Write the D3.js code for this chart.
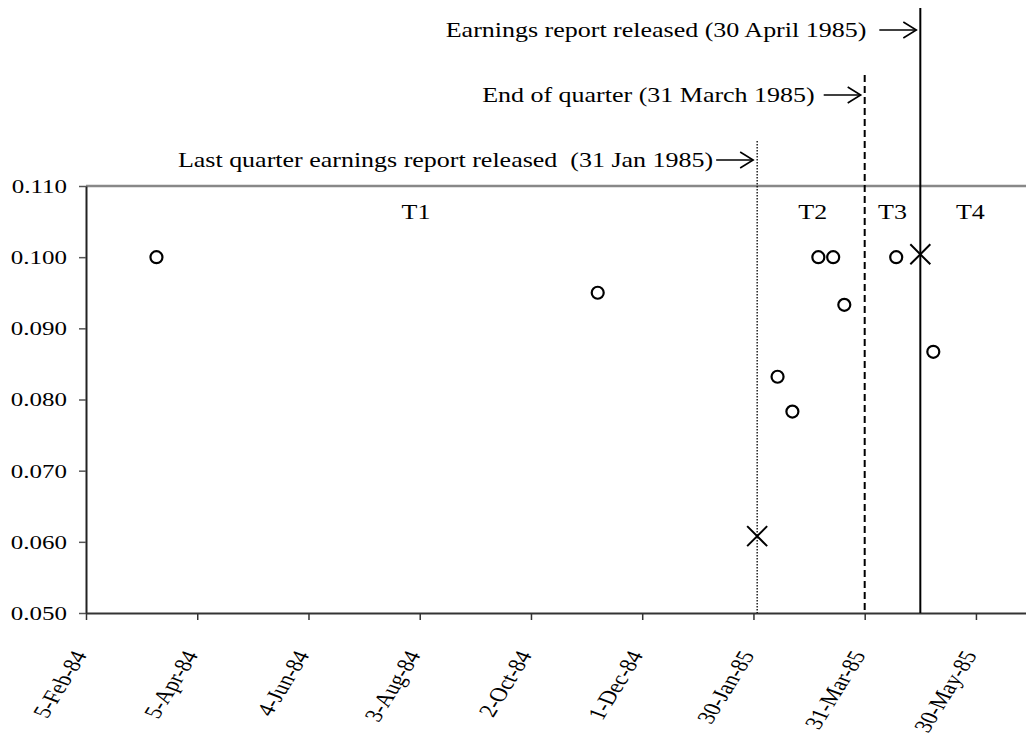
<!DOCTYPE html>
<html>
<head>
<meta charset="utf-8">
<script src="https://cdn.jsdelivr.net/npm/d3@7"></script>
<style>
  html, body { margin: 0; padding: 0; background: #fff; }
  svg { display: block; }
  text { font-family: "Liberation Serif", "Times New Roman", serif; fill: #000; white-space: pre; }
</style>
</head>
<body>
<svg id="chart" width="1026" height="747"></svg>
<script>
// ---- data ----
const circleDates = ["1984-03-14","1984-11-07","1985-02-12","1985-02-20","1985-03-06","1985-03-14","1985-03-20","1985-04-17","1985-05-07"];
const circleValues = [0.100, 0.095, 0.0832, 0.0783, 0.100, 0.100, 0.0933, 0.100, 0.0867];
const crossDates = ["1985-02-01","1985-04-30"];
const crossValues = [0.0608, 0.1004];
const eventDates = ["1985-02-01","1985-03-31","1985-04-30"];
const eventLabels = ["Last quarter earnings report released  (31 Jan 1985)", "End of quarter (31 March 1985)", "Earnings report released (30 April 1985)"];
const eventStyles = ["dotted","dashed","solid"];
const periodLabels = ["T1","T2","T3","T4"];
const periodDates = ["1984-08-01","1985-03-03","1985-04-15","1985-05-27"];
const yTicks = [0.050,0.060,0.070,0.080,0.090,0.100,0.110];
const xStart = "1984-02-05";
const xTickStep = 60;   // days
const xEnd = "1985-06-26";

// ---- setup ----
const parse = d3.utcParse("%Y-%m-%d");
const svg = d3.select("#chart");
const mLeft = 86, mRight = 1026, mTop = 186, mBottom = 613;
const FS = 26, FSA = 25, SY = 0.78;   // font sizes and vertical squash of text

const x = d3.scaleUtc().domain([parse(xStart), parse(xEnd)]).range([mLeft, mRight]);
const y = d3.scaleLinear().domain([0.050, 0.110]).range([mBottom, mTop]);

const xTicks = d3.utcDay.every(1).range(parse(xStart), parse(xEnd)).filter((d,i) => i % xTickStep === 0);
const fmtX = d => `${d.getUTCDate()}-${d3.utcFormat("%b")(d)}-${d3.utcFormat("%y")(d)}`;

// helper: squashed text at (tx, ty)
function sText(g, tx, ty, str, anchor) {
  return g.append("g").attr("transform", `translate(${tx},${ty}) scale(1,${SY})`)
    .append("text").attr("text-anchor", anchor || "start").style("font-size", FS + "px").text(str);
}

// top gray border line
svg.append("line").attr("x1", mLeft).attr("x2", mRight).attr("y1", y(0.110)).attr("y2", y(0.110))
  .attr("stroke", "#888").attr("stroke-width", 2.5);

// y axis
const yAxis = svg.append("g").attr("transform", `translate(${mLeft},0)`)
  .call(d3.axisLeft(y).tickValues(yTicks).tickFormat(d3.format(".3f")).tickSize(7).tickPadding(12).tickSizeOuter(0));
yAxis.select(".domain").attr("stroke", "#222").attr("stroke-width", 2);
yAxis.selectAll(".tick line").attr("stroke", "#555").attr("stroke-width", 1.5);
yAxis.selectAll(".tick text").style("font-family", "Liberation Serif").style("font-size", FSA + "px").attr("fill", "#000")
  .attr("x", -19).attr("dy", "0.33em").attr("transform", `scale(1,${SY})`);

// x axis
const xAxis = svg.append("g").attr("transform", `translate(0,${mBottom})`)
  .call(d3.axisBottom(x).tickValues(xTicks).tickFormat(fmtX).tickSize(7).tickSizeOuter(0));
xAxis.select(".domain").attr("stroke", "#333").attr("stroke-width", 2);
xAxis.selectAll(".tick line").attr("stroke", "#333").attr("stroke-width", 1.5);
xAxis.selectAll(".tick text")
  .style("font-family", "Liberation Serif").style("font-size", FSA + "px").attr("fill", "#000")
  .attr("text-anchor", "end")
  .attr("dy", null).attr("y", 0)
  .attr("transform", `translate(1,42) scale(1,${SY}) rotate(-64)`);

// event vertical lines
const eventTops = [141, 75, 8];
const arrowDy = [19, 20, 22];
const labelGap = [3, 9, 13];
const dashMap = { dotted: "1.5,1.5", dashed: "7,4", solid: null };
eventDates.forEach((d, i) => {
  const xx = x(parse(d));
  svg.append("line").attr("x1", xx).attr("x2", xx).attr("y1", eventTops[i]).attr("y2", mBottom)
    .attr("stroke", "#000").attr("stroke-width", eventStyles[i] === "dotted" ? 1.3 : 2)
    .attr("stroke-dasharray", dashMap[eventStyles[i]]);
  // arrow
  const ay = eventTops[i] + arrowDy[i];
  const ax2 = xx - 4, ax1 = ax2 - 37;
  svg.append("line").attr("x1", ax1).attr("x2", ax2).attr("y1", ay).attr("y2", ay).attr("stroke", "#000").attr("stroke-width", 1.6);
  svg.append("path").attr("d", `M${ax2-13},${ay-8} L${ax2},${ay} L${ax2-13},${ay+8}`)
    .attr("fill", "none").attr("stroke", "#000").attr("stroke-width", 1.6);
  sText(svg, ax1 - labelGap[i], ay + 7, eventLabels[i], "end");
});

// period labels
periodLabels.forEach((p, i) => sText(svg, x(parse(periodDates[i])), 219, p, "middle"));

// circles
svg.selectAll(".pt").data(circleValues).enter().append("circle")
  .attr("cx", (d,i) => x(parse(circleDates[i]))).attr("cy", d => y(d)).attr("r", 6)
  .attr("fill", "none").attr("stroke", "#000").attr("stroke-width", 2.2);

// crosses
crossValues.forEach((v, i) => {
  const cx = x(parse(crossDates[i])), cy = y(v), s = 10;
  svg.append("path").attr("d", `M${cx-s},${cy-s}L${cx+s},${cy+s}M${cx-s},${cy+s}L${cx+s},${cy-s}`)
    .attr("stroke", "#000").attr("stroke-width", 2).attr("fill", "none");
});
</script>
</body>
</html>
